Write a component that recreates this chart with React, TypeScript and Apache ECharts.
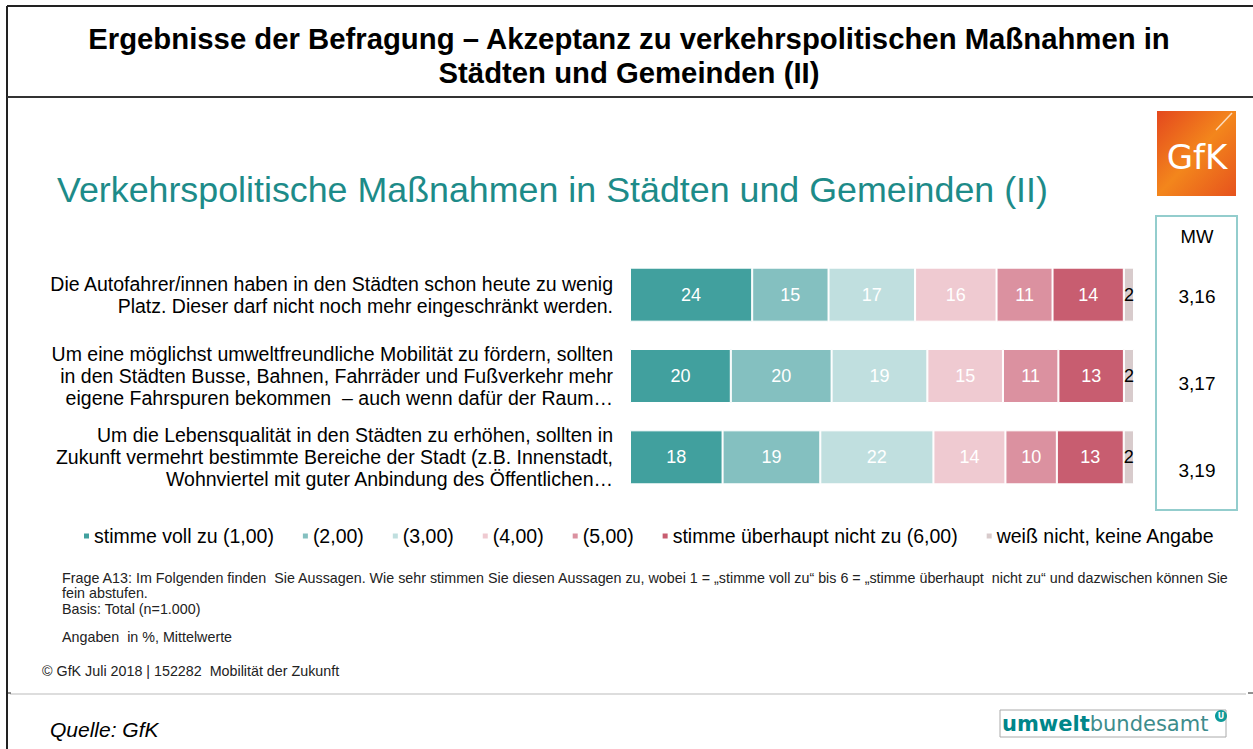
import React, { useEffect, useRef } from "react";
import * as echarts from "echarts";

const categories = [
  "Die Autofahrer/innen haben in den Städten schon heute zu wenig\nPlatz. Dieser darf nicht noch mehr eingeschränkt werden.",
  "Um eine möglichst umweltfreundliche Mobilität zu fördern, sollten\nin den Städten Busse, Bahnen, Fahrräder und Fußverkehr mehr\neigene Fahrspuren bekommen  – auch wenn dafür der Raum…",
  "Um die Lebensqualität in den Städten zu erhöhen, sollten in\nZukunft vermehrt bestimmte Bereiche der Stadt (z.B. Innenstadt,\nWohnviertel mit guter Anbindung des Öffentlichen…",
];
const seriesNames = [
  "stimme voll zu (1,00)",
  "(2,00)",
  "(3,00)",
  "(4,00)",
  "(5,00)",
  "stimme überhaupt nicht zu (6,00)",
  "weiß nicht, keine Angabe",
];
const s1 = [24, 20, 18];
const s2 = [15, 20, 19];
const s3 = [17, 19, 22];
const s4 = [16, 15, 14];
const s5 = [11, 11, 10];
const s6 = [14, 13, 13];
const s7 = [2, 2, 2];
const mwValues = ["3,16", "3,17", "3,19"];

const colors = ["#41a09e", "#84c0c0", "#c0dfdf", "#efcad1", "#db91a0", "#c85d70", "#d8cbcc"];
const labelColors = ["#fff", "#fff", "#fff", "#fff", "#fff", "#fff", "#000"];

export default function App() {
  const ref = useRef<HTMLDivElement>(null);
  useEffect(() => {
    document.body.style.margin = "0";
    const chart = echarts.init(ref.current!, null, { renderer: "svg" });
    const all = [s1, s2, s3, s4, s5, s6, s7];
    const sums = categories.map((_, i) => all.reduce((a, s) => a + s[i], 0));
    const font = "Liberation Sans, Arial, sans-serif";
    const series = all.map((s, k) => ({
      name: seriesNames[k],
      type: "bar",
      stack: "total",
      barWidth: 54,
      data: s.map((v, i) => ({ value: (v / sums[i]) * 100, raw: v })),
      itemStyle: { color: colors[k], borderColor: "#fff", borderWidth: 1 },
      label: {
        show: true,
        position: "inside",
        color: labelColors[k],
        fontSize: 18,
        fontFamily: font,
        formatter: (p: any) => String(p.data.raw),
      },
    }));
    const mwYs = [296, 383, 470];
    chart.setOption({
      animation: false,
      color: colors,
      grid: { left: 630, right: 119, top: 254, height: 244 },
      xAxis: { type: "value", min: 0, max: 100, show: false },
      yAxis: {
        type: "category",
        data: categories,
        inverse: true,
        axisLine: { show: false },
        axisTick: { show: false },
        axisLabel: {
          margin: 17,
          fontSize: 19.5,
          lineHeight: 22,
          color: "#000",
          fontFamily: font,
          align: "right",
        },
      },
      legend: {
        left: 82,
        top: 526,
        padding: 0,
        itemWidth: 7,
        itemHeight: 7,
        itemGap: 27,
        icon: "rect",
        data: seriesNames,
        textStyle: { fontSize: 19.5, lineHeight: 20, color: "#000", fontFamily: font, padding: [0, 0, 0, -1] },
      },
      series,
      graphic: [
        // frame lines
        { type: "line", shape: { x1: 7, y1: 6, x2: 1253, y2: 6 }, style: { stroke: "#222", lineWidth: 2 } },
        { type: "line", shape: { x1: 7, y1: 6, x2: 7, y2: 749 }, style: { stroke: "#222", lineWidth: 2 } },
        { type: "line", shape: { x1: 7, y1: 97, x2: 1253, y2: 97 }, style: { stroke: "#333", lineWidth: 2 } },
        { type: "line", shape: { x1: 10, y1: 694, x2: 1246, y2: 694 }, style: { stroke: "#bbb", lineWidth: 1 } },
        { type: "line", shape: { x1: 7, y1: 693, x2: 11, y2: 693 }, style: { stroke: "#222", lineWidth: 1 } },
        { type: "line", shape: { x1: 1248, y1: 693, x2: 1253, y2: 693 }, style: { stroke: "#222", lineWidth: 1 } },
        // header
        {
          type: "text",
          x: 629,
          y: 38,
          style: {
            text: "Ergebnisse der Befragung – Akzeptanz zu verkehrspolitischen Maßnahmen in",
            font: "bold 29.3px Liberation Sans, Arial, sans-serif",
            fill: "#000",
            align: "center",
            verticalAlign: "middle",
          },
        },
        {
          type: "text",
          x: 629,
          y: 72,
          style: {
            text: "Städten und Gemeinden (II)",
            font: "bold 29.3px Liberation Sans, Arial, sans-serif",
            fill: "#000",
            align: "center",
            verticalAlign: "middle",
          },
        },
        // slide title
        {
          type: "text",
          x: 57,
          y: 190,
          style: {
            text: "Verkehrspolitische Maßnahmen in Städten und Gemeinden (II)",
            font: "35.8px Liberation Sans, Arial, sans-serif",
            fill: "#1d8b89",
            align: "left",
            verticalAlign: "middle",
          },
        },
        // GfK logo
        {
          type: "rect",
          shape: { x: 1157, y: 111, width: 79, height: 85 },
          style: {
            fill: new echarts.graphic.LinearGradient(0, 0, 1, 1, [
              { offset: 0, color: "#e4481e" },
              { offset: 0.5, color: "#f3861c" },
              { offset: 1, color: "#e6521d" },
            ]),
          },
        },
        { type: "line", shape: { x1: 1216, y1: 130, x2: 1232, y2: 113 }, style: { stroke: "rgba(255,255,255,0.7)", lineWidth: 1.5 } },
        {
          type: "text",
          x: 1197,
          y: 157,
          style: {
            text: "GfK",
            font: "34px DejaVu Sans, sans-serif",
            fill: "#fff",
            align: "center",
            verticalAlign: "middle",
          },
        },
        // MW box
        {
          type: "rect",
          shape: { x: 1156, y: 216, width: 81, height: 294 },
          style: { fill: "none", stroke: "#93cdcd", lineWidth: 2 },
        },
        {
          type: "text",
          x: 1197,
          y: 236,
          style: { text: "MW", font: "18.5px Liberation Sans, Arial, sans-serif", fill: "#000", align: "center", verticalAlign: "middle" },
        },
        ...mwValues.map((v, i) => ({
          type: "text",
          x: 1197,
          y: mwYs[i],
          style: { text: v, font: "19px Liberation Sans, Arial, sans-serif", fill: "#000", align: "center", verticalAlign: "middle" },
        })),
        // footnotes
        {
          type: "text",
          x: 62,
          y: 570,
          style: {
            text:
              "Frage A13: Im Folgenden finden  Sie Aussagen. Wie sehr stimmen Sie diesen Aussagen zu, wobei 1 = „stimme voll zu“ bis 6 = „stimme überhaupt  nicht zu“ und dazwischen können Sie\nfein abstufen.\nBasis: Total (n=1.000)",
            font: "14.3px Liberation Sans, Arial, sans-serif",
            lineHeight: 15.5,
            fill: "#222",
            align: "left",
            verticalAlign: "top",
          },
        },
        {
          type: "text",
          x: 62,
          y: 630,
          style: { text: "Angaben  in %, Mittelwerte", font: "14.3px Liberation Sans, Arial, sans-serif", fill: "#222", verticalAlign: "top" },
        },
        {
          type: "text",
          x: 42,
          y: 664,
          style: { text: "© GfK Juli 2018 | 152282  Mobilität der Zukunft", font: "14.3px Liberation Sans, Arial, sans-serif", fill: "#222", verticalAlign: "top" },
        },
        // Quelle
        {
          type: "text",
          x: 50,
          y: 729,
          style: { text: "Quelle: GfK", font: "italic 21px Liberation Sans, Arial, sans-serif", fill: "#000", verticalAlign: "middle" },
        },
        // umweltbundesamt logo
        {
          type: "rect",
          shape: { x: 1000, y: 710, width: 226, height: 27 },
          style: { fill: "#fff", stroke: "#aaa", lineWidth: 1 },
        },
        {
          type: "text",
          x: 1002,
          y: 724,
          style: {
            text: "{a|umwelt}{b|bundesamt}",
            rich: {
              a: { font: "bold 21px DejaVu Sans, sans-serif", fill: "#00868a" },
              b: { font: "21px DejaVu Sans, sans-serif", fill: "#3d8c8c" },
            },
            verticalAlign: "middle",
          },
        },
        { type: "circle", shape: { cx: 1221, cy: 716, r: 6 }, style: { fill: "#0f9a98" } },
        {
          type: "text",
          x: 1221,
          y: 716,
          style: { text: "U", font: "bold 8px DejaVu Sans, sans-serif", fill: "#fff", align: "center", verticalAlign: "middle" },
        },
      ],
    });
    return () => chart.dispose();
  }, []);
  return <div ref={ref} style={{ position: "absolute", left: 0, top: 0, width: 1253, height: 749 }} />;
}
